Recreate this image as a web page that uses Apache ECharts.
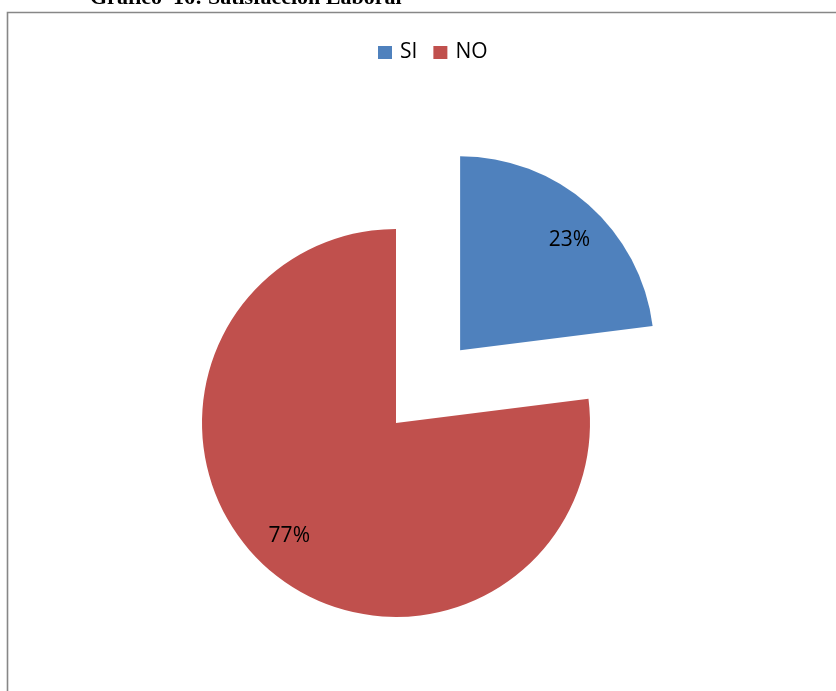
<!DOCTYPE html>
<html>
<head>
<meta charset="utf-8">
<script src="https://cdn.jsdelivr.net/npm/echarts@6/dist/echarts.min.js"></script>
<style>
  html, body { margin: 0; padding: 0; background: #ffffff; }
  #chart { width: 836px; height: 691px; }
</style>
</head>
<body>
<div id="chart"></div>
<script>
// Job satisfaction survey: share of answers
const categories = ['SI', 'NO'];
const values = [23, 77];
const colors = ['#4F81BD', '#C0504D'];
const titleText = 'Gráfico  16: Satisfacción Laboral';

const FONT = '"Open Sans", "Noto Sans", sans-serif';
const CENTER = [396, 423];
const RADIUS = 194;
const EXPLODE = 97;

const pieData = categories.map((name, i) => ({
  name: name,
  value: values[i],
  selected: i === 0,
  itemStyle: { color: colors[i] }
}));

const labelData = categories.map((name, i) => ({
  name: name,
  value: values[i],
  selected: i === 0
}));

const chart = echarts.init(document.getElementById('chart'), null, { renderer: 'canvas' });

chart.setOption({
  backgroundColor: '#ffffff',
  animation: false,
  title: {
    text: titleText,
    left: 90,
    top: -13,
    padding: 0,
    textStyle: {
      fontFamily: '"Liberation Serif", "Times New Roman", serif',
      fontWeight: 'bold',
      fontSize: 22,
      color: '#000000'
    }
  },
  graphic: [{
    type: 'rect',
    silent: true,
    z: -10,
    shape: { x: 7.5, y: 12.5, width: 900, height: 800 },
    style: { fill: 'none', stroke: '#878787', lineWidth: 1.6 }
  }],
  legend: {
    left: 378,
    top: 42,
    padding: 0,
    icon: 'rect',
    itemWidth: 14,
    itemHeight: 13,
    itemGap: 16,
    selectedMode: false,
    data: categories.map((name, i) => ({ name: name, itemStyle: { color: colors[i] } })),
    textStyle: { fontFamily: FONT, fontSize: 21, color: '#000000', padding: [0, 0, 0, 3] }
  },
  series: [
    {
      type: 'pie',
      name: 'Satisfacción',
      center: CENTER,
      radius: [0, RADIUS],
      startAngle: 90,
      clockwise: true,
      selectedMode: 'single',
      selectedOffset: EXPLODE,
      avoidLabelOverlap: false,
      label: { show: false },
      labelLine: { show: false },
      emphasis: { disabled: true },
      select: { itemStyle: { borderWidth: 0 } },
      data: pieData
    },
    {
      // ring used only to place the percentage labels toward the rim
      type: 'pie',
      name: 'Etiquetas',
      silent: true,
      center: CENTER,
      radius: [RADIUS * 0.57, RADIUS],
      startAngle: 88,
      clockwise: true,
      selectedMode: 'single',
      selectedOffset: EXPLODE,
      avoidLabelOverlap: false,
      itemStyle: { color: 'transparent' },
      emphasis: { disabled: true },
      label: {
        show: true,
        position: 'inside',
        formatter: (p) => Math.round(p.percent) + '%',
        fontFamily: FONT,
        fontSize: 21,
        color: '#000000'
      },
      labelLine: { show: false },
      data: labelData
    }
  ]
});
</script>
</body>
</html>
